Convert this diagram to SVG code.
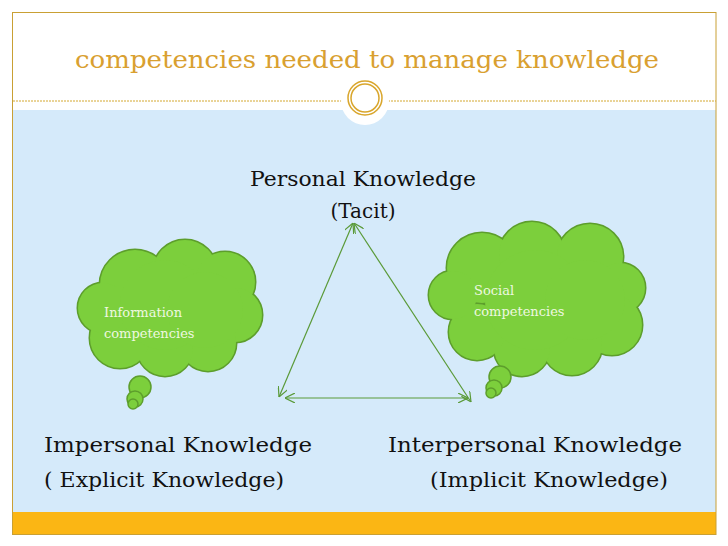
<svg xmlns="http://www.w3.org/2000/svg" width="728" height="546" viewBox="0 0 728 546">
<style>
.t{font-family:"DejaVu Serif","Liberation Serif",serif;fill:#111}
.c{font-family:"DejaVu Serif","Liberation Serif",serif;fill:#eef8e0;font-size:13px}
.os circle{fill:#5d9e2c;stroke:#5d9e2c;stroke-width:3}
.fs circle{fill:#7ccf3c}
.e{stroke:#5a9a38;stroke-width:1.2;fill:none;marker-start:url(#a);marker-end:url(#a)}
</style>
<defs>
<marker id="a" viewBox="0 0 10 10" refX="10" refY="5" markerWidth="10" markerHeight="10" orient="auto-start-reverse" markerUnits="userSpaceOnUse">
<path d="M0,0 L10,5 L0,10" fill="none" stroke="#5a9a38" stroke-width="1.2"/>
</marker>
</defs>
<rect width="728" height="546" fill="#fff"/>
<rect x="13" y="110" width="703" height="402" fill="#d5eafa"/>
<rect x="13" y="512" width="703" height="23" fill="#fbb614"/>
<rect x="12.5" y="12.5" width="703.5" height="522" fill="none" stroke="#c9a034" stroke-width="1"/>
<line x1="13" y1="101" x2="716" y2="101" stroke="#d4a830" stroke-width="1" stroke-dasharray="2,1"/>
<circle cx="365" cy="101" r="24" fill="#fff"/>
<circle cx="365" cy="98" r="17" fill="none" stroke="#d9a62c" stroke-width="1.5"/>
<circle cx="365" cy="98" r="14" fill="none" stroke="#d9a62c" stroke-width="1.5"/>
<text x="367" y="68" text-anchor="middle" class="t" style="fill:#d9a030;font-size:25px" textLength="584" lengthAdjust="spacingAndGlyphs">competencies needed to manage knowledge</text>

<g id="cloud-info">
<g class="os">
<circle cx="135" cy="285" r="35"/><circle cx="185" cy="272" r="32"/><circle cx="225" cy="282" r="30"/><circle cx="235" cy="315" r="27"/><circle cx="208" cy="343" r="28"/><circle cx="165" cy="348" r="28"/><circle cx="120" cy="338" r="30"/><circle cx="103" cy="308" r="25"/><circle cx="165" cy="305" r="45"/><circle cx="205" cy="310" r="38"/>
</g>
<g class="fs">
<circle cx="135" cy="285" r="35"/><circle cx="185" cy="272" r="32"/><circle cx="225" cy="282" r="30"/><circle cx="235" cy="315" r="27"/><circle cx="208" cy="343" r="28"/><circle cx="165" cy="348" r="28"/><circle cx="120" cy="338" r="30"/><circle cx="103" cy="308" r="25"/><circle cx="165" cy="305" r="45"/><circle cx="205" cy="310" r="38"/>
</g>
<circle cx="140" cy="387" r="11" fill="#7ccf3c" stroke="#5d9e2c" stroke-width="1.5"/><circle cx="135" cy="399" r="8" fill="#7ccf3c" stroke="#5d9e2c" stroke-width="1.5"/><circle cx="133" cy="404" r="5" fill="#7ccf3c" stroke="#5d9e2c" stroke-width="1.5"/>
<text x="104" y="317" class="c">Information</text>
<text x="104" y="338" class="c">competencies</text>
</g>

<g id="cloud-social">
<g class="os">
<circle cx="482" cy="268" r="35"/><circle cx="532" cy="255" r="33"/><circle cx="590" cy="257" r="33"/><circle cx="620" cy="288" r="25"/><circle cx="612" cy="325" r="30"/><circle cx="572" cy="345" r="30"/><circle cx="522" cy="348" r="28"/><circle cx="477" cy="332" r="28"/><circle cx="453" cy="295" r="24"/><circle cx="535" cy="300" r="50"/><circle cx="585" cy="300" r="40"/>
</g>
<g class="fs">
<circle cx="482" cy="268" r="35"/><circle cx="532" cy="255" r="33"/><circle cx="590" cy="257" r="33"/><circle cx="620" cy="288" r="25"/><circle cx="612" cy="325" r="30"/><circle cx="572" cy="345" r="30"/><circle cx="522" cy="348" r="28"/><circle cx="477" cy="332" r="28"/><circle cx="453" cy="295" r="24"/><circle cx="535" cy="300" r="50"/><circle cx="585" cy="300" r="40"/>
</g>
<circle cx="500" cy="377" r="11" fill="#7ccf3c" stroke="#5d9e2c" stroke-width="1.5"/><circle cx="494" cy="388" r="8" fill="#7ccf3c" stroke="#5d9e2c" stroke-width="1.5"/><circle cx="491" cy="393" r="5" fill="#7ccf3c" stroke="#5d9e2c" stroke-width="1.5"/>
<text x="474" y="295" class="c">Social</text>
<text x="474" y="316" class="c">competencies</text>
</g>

<g id="connectors">
<line class="e" x1="279" y1="397" x2="353" y2="223"/>
<line class="e" x1="354" y1="223" x2="471" y2="402"/>
<line class="e" x1="285" y1="398" x2="468" y2="398"/>
</g>

<g id="personal">
<text x="363" y="186" text-anchor="middle" class="t" style="font-size:20px" textLength="226" lengthAdjust="spacingAndGlyphs">Personal Knowledge</text>
<text x="363" y="218" text-anchor="middle" class="t" style="font-size:20px">(Tacit)</text>
</g>
<g id="impersonal">
<text x="44" y="452" class="t" style="font-size:20px" textLength="268" lengthAdjust="spacingAndGlyphs">Impersonal Knowledge</text>
<text x="44" y="487" class="t" style="font-size:20px" textLength="240" lengthAdjust="spacingAndGlyphs">( Explicit Knowledge)</text>
</g>
<g id="interpersonal">
<text x="388" y="452" class="t" style="font-size:20px" textLength="294" lengthAdjust="spacingAndGlyphs">Interpersonal Knowledge</text>
<text x="430" y="487" class="t" style="font-size:20px" textLength="238" lengthAdjust="spacingAndGlyphs">(Implicit Knowledge)</text>
</g>
</svg>
